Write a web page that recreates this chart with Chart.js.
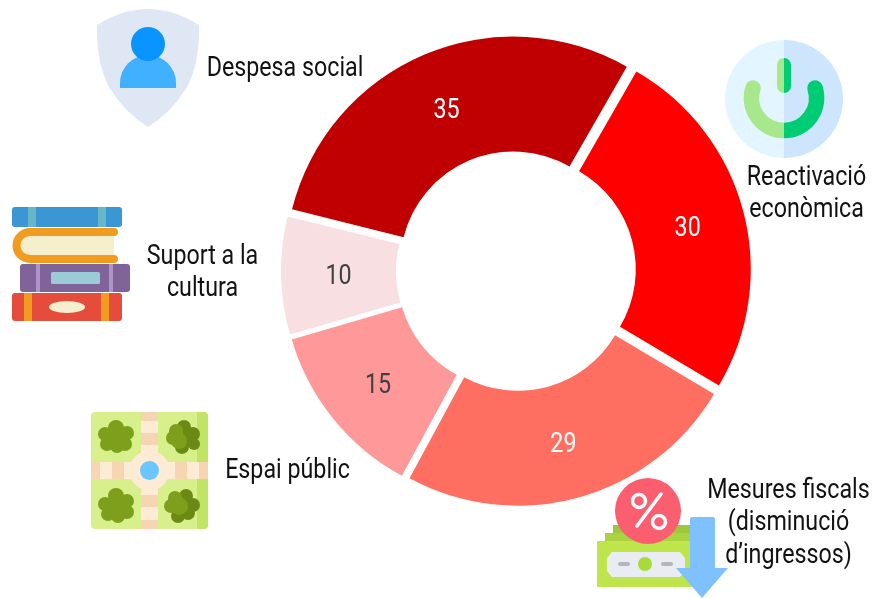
<!DOCTYPE html>
<html><head><meta charset="utf-8">
<style>
html,body{margin:0;padding:0;background:#fff;overflow:hidden}
#wrap{position:relative;width:877px;height:598px}
#wrap canvas{position:absolute;left:0;top:0}
svg.ic{position:absolute;left:0;top:0;z-index:2;pointer-events:none}
</style>
<script src="https://cdn.jsdelivr.net/npm/chart.js@4"></script>
</head><body>
<div id="wrap">
<canvas id="c" width="877" height="598"></canvas>
<svg class="ic" width="877" height="598" viewBox="0 0 877 598">
  <!-- shield -->
  <path d="M97 25 Q122 9 148 9 Q174 9 199 25 Q200 62 187 87 Q172 112 148 127 Q124 112 109 87 Q96 62 97 25Z" fill="#dfe7f5"/>
  <path d="M120 88 V83 A28 28 0 0 1 176 83 V88Z" fill="#40b0ff"/>
  <circle cx="148" cy="44" r="17" fill="#0a94ff"/>
  <!-- books -->
  <rect x="12" y="207" width="110" height="20" rx="3" fill="#3b97d3"/>
  <rect x="28" y="207" width="8" height="20" fill="#66b8c8"/>
  <rect x="98" y="207" width="8" height="20" fill="#66b8c8"/>
  <path d="M114 232 H30 A13.500 13.500 0 0 0 30 259 H114Z" fill="#f5efcd"/>
  <path d="M114 232 H30 A13.500 13.500 0 0 0 30 259 H114" fill="none" stroke="#f29c1f" stroke-width="8" stroke-linecap="round"/>
  <rect x="20" y="264" width="110" height="28" rx="3" fill="#7f6399"/>
  <rect x="36" y="264" width="4" height="28" fill="#ae95c7"/>
  <rect x="109" y="264" width="4" height="28" fill="#ae95c7"/>
  <rect x="51" y="272" width="49" height="12" rx="1.500" fill="#9bcbd6"/>
  <rect x="12" y="293" width="110" height="28" rx="3" fill="#e64c3c"/>
  <rect x="24" y="293" width="8" height="28" fill="#f29c1f"/>
  <rect x="101" y="293" width="8" height="28" fill="#f29c1f"/>
  <ellipse cx="67" cy="307" rx="18" ry="6" fill="#f5efcd"/>
  <!-- park -->
  <rect x="91" y="412" width="117" height="117" rx="4" fill="#d8f08c"/>
  <path d="M197 412 h7 a4 4 0 0 1 4 4 v109 a4 4 0 0 1 -4 4 h-7Z" fill="#c2e464"/>
  <rect x="141" y="412" width="17" height="117" fill="#fdebd6"/>
  <rect x="91" y="462" width="117" height="17" fill="#fdebd6"/>
  <circle cx="149.500" cy="470.500" r="20" fill="#fdebd6"/>
  <g fill="#f6d6b2"><rect x="141" y="412" width="17" height="9"/><rect x="141" y="433" width="17" height="12"/><rect x="141" y="495" width="17" height="12"/><rect x="141" y="520" width="17" height="9"/><rect x="91" y="462" width="9" height="17"/><rect x="112" y="462" width="12" height="17"/><rect x="175" y="462" width="12" height="17"/><rect x="199" y="462" width="9" height="17"/></g>
  <circle cx="149.500" cy="470.500" r="9.500" fill="#69c6ff"/>
  <g fill="#7e9f1c">
   <g><circle cx="116" cy="428" r="8"/><circle cx="105" cy="434" r="7"/><circle cx="127" cy="433" r="7"/><circle cx="107" cy="444" r="7"/><circle cx="125" cy="444" r="7"/><circle cx="117" cy="446" r="7"/><circle cx="116" cy="437" r="10"/></g>
   <g><circle cx="116" cy="496" r="8"/><circle cx="105" cy="504" r="7"/><circle cx="127" cy="501" r="7"/><circle cx="108" cy="514" r="7"/><circle cx="127" cy="512" r="7"/><circle cx="118" cy="516" r="7"/><circle cx="116" cy="506" r="10"/></g>
   <g fill="#6b8a15"><circle cx="184" cy="427" r="7"/><circle cx="193" cy="434" r="7"/><circle cx="194" cy="444" r="6"/><circle cx="182" cy="447" r="7"/><circle cx="184" cy="437" r="10"/></g>
   <g><circle cx="176" cy="431" r="7"/><circle cx="173" cy="438" r="7"/><circle cx="179" cy="441" r="8"/></g>
   <g fill="#6b8a15"><circle cx="186" cy="496" r="7"/><circle cx="193" cy="505" r="7"/><circle cx="188" cy="513" r="7"/><circle cx="178" cy="516" r="7"/><circle cx="184" cy="505" r="10"/></g>
   <g><circle cx="175" cy="498" r="7"/><circle cx="171" cy="506" r="7"/><circle cx="179" cy="506" r="9"/></g>
  </g>
  <!-- money -->
  <rect x="613" y="525" width="85" height="30" fill="#9cc83c"/>
  <rect x="605" y="533" width="93" height="30" fill="#a9d340"/>
  <rect x="597" y="541" width="100" height="46" rx="1" fill="#bee64c"/>
  <path d="M612 552 H680 L685 558 V571 L680 577 H612 L607 571 V558Z" fill="#e9edf1"/>
  <circle cx="645" cy="564" r="7" fill="#a9d93a"/>
  <rect x="618" y="562" width="12" height="4" rx="2" fill="#b5b5bd"/>
  <rect x="661" y="562" width="12" height="4" rx="2" fill="#b5b5bd"/>
  <circle cx="648" cy="511" r="33" fill="#fb5f6f"/>
  <path d="M661 494 L637 526" stroke="#fff" stroke-width="3.500" stroke-linecap="round"/>
  <circle cx="639" cy="501" r="6.500" fill="none" stroke="#fff" stroke-width="3.500"/>
  <circle cx="659" cy="522" r="6.500" fill="none" stroke="#fff" stroke-width="3.500"/>
  <path d="M692 517 Q690 517 690 519 V568 H676 L702 598 L728 568 H715 V519 Q715 517 713 517Z" fill="#7fc1ff"/>
  <!-- power -->
  <path d="M784 40 A59 59 0 0 0 784 158Z" fill="#e3f5ff"/>
  <path d="M784 40 A59 59 0 0 1 784 158Z" fill="#cde5fd"/>
  <path d="M784 58 A7 7 0 0 0 777 65 V86 A7 7 0 0 0 784 93Z" fill="#a8e88c"/>
  <path d="M784 58 A7 7 0 0 1 791 65 V86 A7 7 0 0 1 784 93Z" fill="#00cc73"/>
  <path d="M753 88 A32.500 32.500 0 0 0 784 130.500" fill="none" stroke="#a8e88c" stroke-width="15.500" stroke-linecap="round"/>
  <path d="M784 130.500 A32.500 32.500 0 0 0 815 88" fill="none" stroke="#00cc73" stroke-width="15.500"/>
  <circle cx="815" cy="88" r="7.750" fill="#00cc73"/>
</svg>
</div>
<script>
const categories = ["Despesa social","Reactivació econòmica","Mesures fiscals (disminució d’ingressos)","Espai públic","Suport a la cultura"];
const values = [35,30,29,15,10];
const sliceColors = ["#c00000","#ff0000","#ff6f61","#ff9999","#f8dfe2"];
const valueColors = ["#ffffff","#ffffff","#ffffff","#404040","#404040"];
const calloutLines = [["Despesa social"],["Reactivació","econòmica"],["Mesures fiscals","(disminució","d’ingressos)"],["Espai públic"],["Suport a la","cultura"]];
const calloutAnchors = [[285,69],[806.5,178],[788.5,491],[287.5,471],[202.5,257]];
const lineHeight = 32.3;
const fontPx = 28, squeeze = 0.83;
const explode = 28;           // Chart.js moves an arc by offset/4
const FONT = fontPx+'px Roboto';

function drawText(ctx,t,x,y,color){
  ctx.save();ctx.translate(x,y);ctx.scale(squeeze,1);
  ctx.font=FONT;ctx.fillStyle=color;ctx.textAlign='center';ctx.textBaseline='middle';
  ctx.fillText(t,0,0);ctx.restore();
}
const radiusFix=a=>(explode/4)*(1-Math.sin(Math.min(Math.PI,a.circumference)));
const textPlugin={id:'textPlugin',
 afterDatasetsUpdate(chart){
  // keep one radius for all slices: undo the radius change Chart.js adds to exploded small arcs
  chart.getDatasetMeta(0).data.forEach(a=>{
    const r=radiusFix(a);
    a.outerRadius-=r;a.innerRadius-=r;
  });
 },
 afterDatasetsDraw(chart){
  const ctx=chart.ctx,arcs=chart.getDatasetMeta(0).data;
  arcs.forEach((a,i)=>{
    // tooltipPosition() already counts offset/2 outward; the drawn arc moved only offset/4
    const p=a.tooltipPosition(),h=(a.startAngle+a.endAngle)/2,d=explode/4-radiusFix(a);
    drawText(ctx,String(values[i]),p.x-Math.cos(h)*d,p.y-Math.sin(h)*d+3,valueColors[i]);
  });
  calloutLines.forEach((ls,i)=>{ls.forEach((l,j)=>{drawText(ctx,l,calloutAnchors[i][0],calloutAnchors[i][1]+j*lineHeight,'#111111');});});
 }};
new Chart(document.getElementById('c'),{
  type:'doughnut',
  data:{labels:categories,datasets:[{data:values,backgroundColor:sliceColors,borderWidth:0,offset:explode,hoverOffset:explode}]},
  options:{responsive:false,animation:false,rotation:-76,cutout:113,
    layout:{padding:{left:274,top:29,right:119,bottom:85}},
    plugins:{legend:{display:false},tooltip:{enabled:false}}},
  plugins:[textPlugin]
});
</script>
</body></html>
